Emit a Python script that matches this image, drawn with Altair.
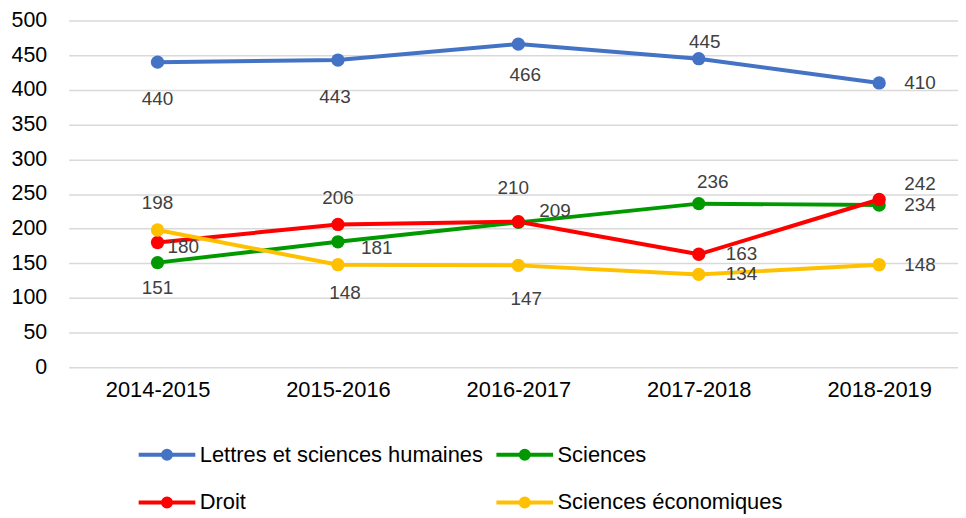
import altair as alt
import pandas as pd

# ---- data ----
years = ["2014-2015", "2015-2016", "2016-2017", "2017-2018", "2018-2019"]
series = ["Lettres et sciences humaines", "Sciences", "Droit", "Sciences économiques"]
lettres = [440, 443, 466, 445, 410]
sciences = [151, 181, 209, 236, 234]
droit = [180, 206, 210, 163, 242]
economiques = [198, 148, 147, 134, 148]
y_ticks = [0, 50, 100, 150, 200, 250, 300, 350, 400, 450, 500]

# ---- style ----
colors = ["#4472C4", "#009A00", "#FF0000", "#FFC000"]
# label offsets (pixels) relative to each point, per series
label_dx = [[0, -3, 7, 6, 41], [0, 39, 37, 14, 41], [26, 0, -5, 43, 41], [0, 7, 8, 43, 41]]
label_dy = [[37, 37, 31, -17, 0], [26, 6, -11, -22, 0], [5, -27, -34, 0, -16], [-27, 29, 34, 0, 0]]

FONT = "Liberation Sans"

rows = []
for s, vals in zip(series, [lettres, sciences, droit, economiques]):
    for yr, v in zip(years, vals):
        rows.append({"annee": yr, "serie": s, "valeur": v})
df = pd.DataFrame(rows)

x_enc = alt.X(
    "annee:N",
    sort=years,
    scale=alt.Scale(type="point", padding=0.465, align=0.53),
    axis=alt.Axis(title=None, labelAngle=0, labelFontSize=22, labelColor="#000000",
                  ticks=False, domain=False, labelPadding=12, grid=False, labelFont=FONT),
)
y_enc = alt.Y(
    "valeur:Q",
    scale=alt.Scale(domain=[0, 500], nice=False),
    axis=alt.Axis(title=None, values=y_ticks, labelFontSize=21.5, labelColor="#000000",
                  ticks=False, domain=False, labelPadding=22, gridColor="#D9D9D9",
                  gridWidth=1.5, labelFont=FONT),
)

# legend symbol: a line segment with a dot in the middle
legend_symbol = ("M-2.85,0L2.85,0M-0.4,0A0.4,0.4,0,1,1,0.4,0"
                 "A0.4,0.4,0,1,1,-0.4,0Z")
color_enc = alt.Color(
    "serie:N",
    sort=series,
    scale=alt.Scale(domain=series, range=colors),
    legend=alt.Legend(
        title=None, orient="none", legendX=87, legendY=425, columns=2,
        direction="horizontal",
        symbolType=legend_symbol, symbolSize=400, symbolStrokeWidth=4,
        labelFontSize=22, labelColor="#000000", labelFont=FONT, labelOffset=21,
        labelLimit=0, columnPadding=5, rowPadding=24, padding=0,
    ),
)

base = alt.Chart(df).encode(x=x_enc, y=y_enc)

lines = base.mark_line(strokeWidth=4).encode(color=color_enc, detail="serie:N")
points = base.mark_point(filled=True, size=180, opacity=1).encode(color=color_enc)

text_layers = []
for s, dxs, dys in zip(series, label_dx, label_dy):
    for yr, dx, dy in zip(years, dxs, dys):
        text_layers.append(
            base.transform_filter(
                (alt.datum.serie == s) & (alt.datum.annee == yr)
            ).mark_text(
                dx=dx, dy=dy, fontSize=19, color="#404040", align="center",
                baseline="middle", font=FONT,
            ).encode(text="valeur:Q")
        )

chart = alt.layer(lines, points, *text_layers).properties(
    width=895,
    height=349,
    autosize=alt.AutoSizeParams(type="none"),
    padding={"left": 61, "top": 11, "right": 0, "bottom": 150},
    background="white",
).configure_view(stroke=None)

chart.save("out.html", embed_options={"renderer": "svg", "actions": False})
